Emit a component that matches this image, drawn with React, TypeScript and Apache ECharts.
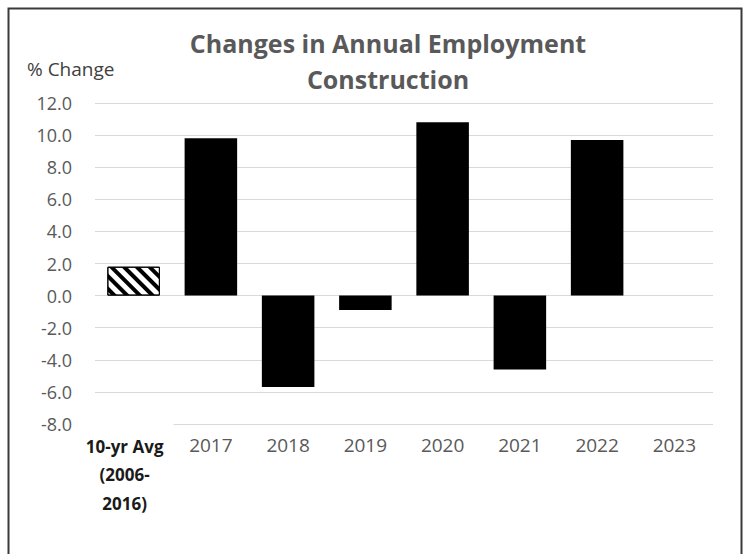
import React, { useEffect, useRef } from "react";
import * as echarts from "echarts";

const categories = ["10-yr Avg (2006-2016)", "2017", "2018", "2019", "2020", "2021", "2022", "2023"];
const values: (number | null)[] = [1.8, 9.8, -5.7, -0.9, 10.8, -4.6, 9.7, null];
const titleLines = ["Changes in Annual Employment", "Construction"];
const yName = "% Change";
const yMin = -8;
const yMax = 12;
const yInterval = 2;

const FONT = "'Open Sans', 'Noto Sans', sans-serif";

export default function App() {
  const ref = useRef<HTMLDivElement>(null);
  useEffect(() => {
    if (!ref.current) return;
    const chart = echarts.init(ref.current, null, { renderer: "svg" });
    const data = values.map((v, i) =>
      i === 0
        ? {
            value: v,
            itemStyle: {
              color: "#ffffff",
              borderColor: "#000000",
              borderWidth: 1,
              decal: {
                symbol: "rect",
                symbolSize: 1,
                dashArrayX: [[1, 0]],
                dashArrayY: [4, 5],
                rotation: Math.PI / 4,
                color: "#000000",
                backgroundColor: "#ffffff",
              },
            },
          }
        : { value: v }
    );
    chart.setOption({
      animation: false,
      backgroundColor: "#ffffff",
      textStyle: { fontFamily: FONT },
      title: [
        {
          text: titleLines.join("\n"),
          left: 383,
          top: 20,
          textAlign: "center",
          textStyle: {
            fontFamily: FONT,
            fontSize: 25,
            fontWeight: "bold",
            color: "#595959",
            lineHeight: 36,
          },
        },
        {
          text: yName,
          left: 22,
          top: 54,
          textStyle: { fontFamily: FONT, fontSize: 19, fontWeight: "normal", color: "#404040" },
        },
      ],
      grid: { left: 95, right: 36, top: 103, bottom: 130, containLabel: false },
      xAxis: {
        type: "category",
        data: categories,
        z: 5,
        axisLine: { show: false, onZero: false },
        axisTick: { show: false },
        axisLabel: {
          margin: 0,
          interval: 0,
          formatter: (v: string, i: number) => {
            if (i === 0) return "{w| }\n{b|10-yr Avg}\n{b|(2006-}\n{b|2016)}";
            return "{n|" + v + "}";
          },
          rich: {
            w: { width: 80, height: 8, backgroundColor: "#ffffff", fontSize: 2, lineHeight: 8 },
            b: {
              fontFamily: FONT,
              fontSize: 17,
              fontWeight: "bold",
              color: "#1a1a1a",
              lineHeight: 28.5,
              padding: [0, 18, 0, 0],
            },
            n: { fontFamily: FONT, fontSize: 19, color: "#595959", lineHeight: 26, padding: [16, 0, 0, 0] },
          },
        },
      },
      yAxis: {
        type: "value",
        min: yMin,
        max: yMax,
        interval: yInterval,
        axisLine: { show: false },
        axisTick: { show: false },
        splitLine: { lineStyle: { color: "#d9d9d9", width: 1 } },
        axisLabel: {
          margin: 23,
          fontFamily: FONT,
          fontSize: 18,
          color: "#595959",
          formatter: (v: number) => v.toFixed(1),
        },
      },
      series: [
        {
          type: "bar",
          data,
          barWidth: "68%",
          itemStyle: { color: "#000000" },
        },
      ],
      graphic: [
        {
          type: "rect",
          left: 6,
          top: 6,
          shape: { width: 733, height: 560 },
          style: { fill: "none", stroke: "#3a3a3a", lineWidth: 2 },
          z: 100,
          silent: true,
        },
      ],
    });
    return () => chart.dispose();
  }, []);
  return (
    <div
      ref={ref}
      style={{ position: "fixed", left: 0, top: 0, width: 749, height: 554 }}
    />
  );
}
